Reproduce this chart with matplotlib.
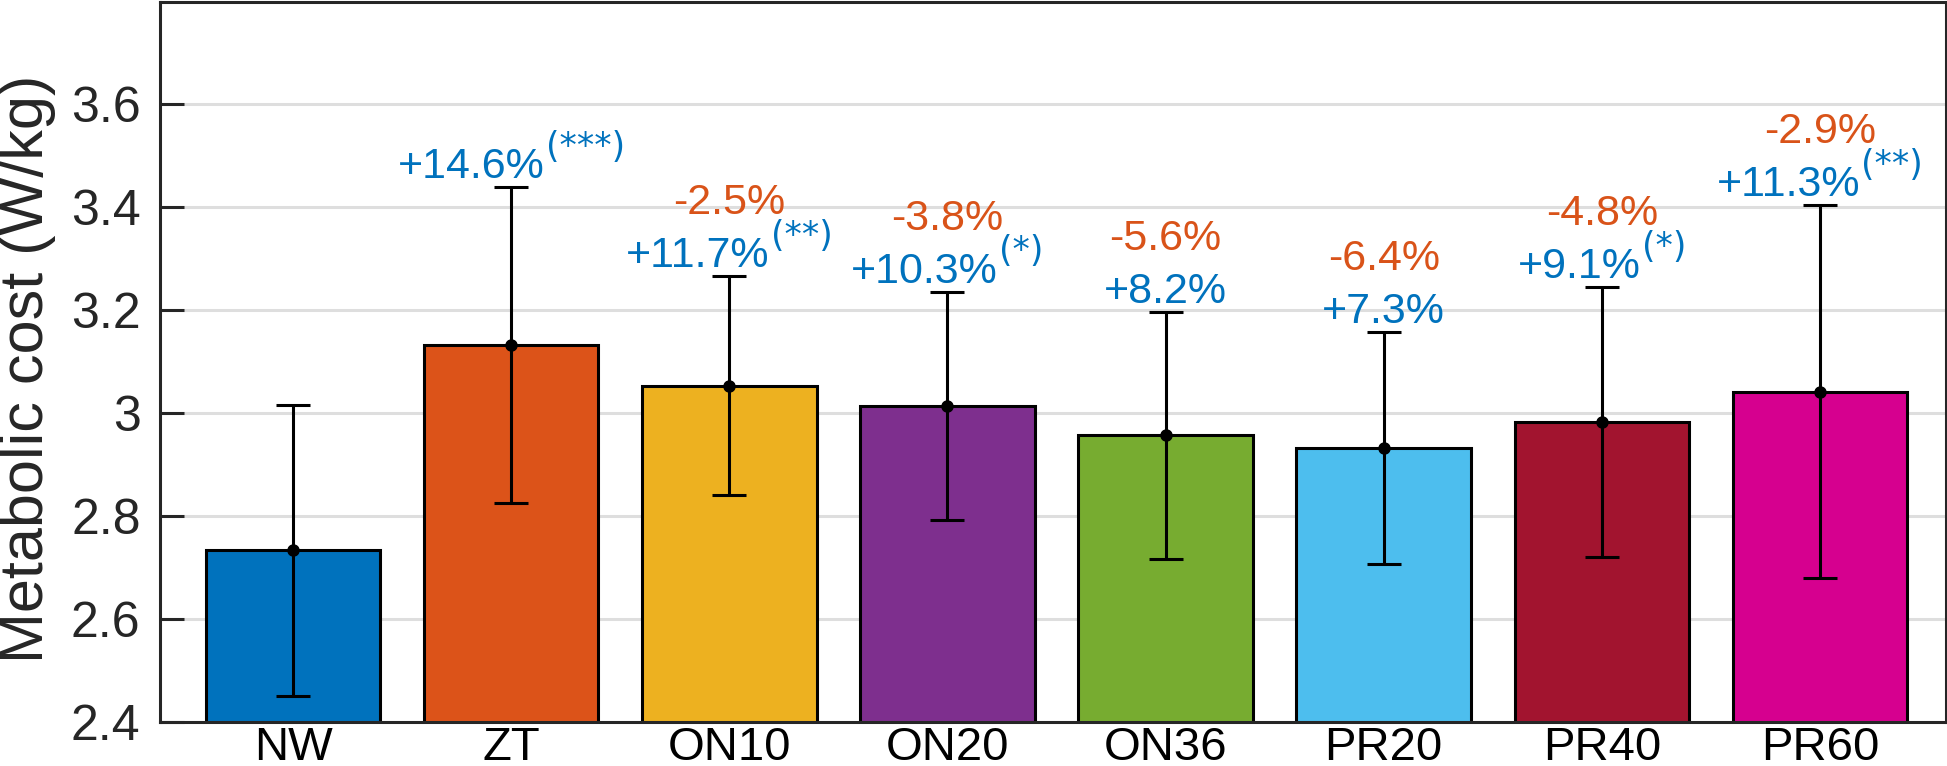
import numpy as np
import matplotlib.pyplot as plt

plt.rcParams['font.family'] = ['Liberation Sans', 'DejaVu Sans']

# condition names and mean metabolic cost with SD (W/kg)
conditions = ['NW', 'ZT', 'ON10', 'ON20', 'ON36', 'PR20', 'PR40', 'PR60']
means = [2.733, 3.132, 3.053, 3.014, 2.957, 2.932, 2.983, 3.042]
sds = [0.282, 0.307, 0.213, 0.222, 0.240, 0.226, 0.262, 0.362]
bar_colors = ['#0072BD', '#DC5319', '#EDB120', '#7E2F8E', '#77AC30',
              '#4DBEEE', '#A2142F', '#D6008F']

# change vs NW (blue), change vs ZT (red), significance marks
vs_nw = ['', '+14.6%', '+11.7%', '+10.3%', '+8.2%', '+7.3%', '+9.1%', '+11.3%']
sig = ['', '(***)', '(**)', '(*)', '', '', '(*)', '(**)']
vs_zt = ['', '', '-2.5%', '-3.8%', '-5.6%', '-6.4%', '-4.8%', '-2.9%']

yticks = [2.4, 2.6, 2.8, 3.0, 3.2, 3.4, 3.6]
ytick_labels = ['2.4', '2.6', '2.8', '3', '3.2', '3.4', '3.6']

blue = '#0072BD'
red = '#D95319'
axis_col = '#262626'

fig = plt.figure(figsize=(19.47, 7.66), dpi=100)
ax = fig.add_axes([0.0822, 0.0577, 0.9175, 0.9403])

x = np.arange(len(conditions))
ax.bar(x, means, width=0.8, color=bar_colors, edgecolor='k', linewidth=2.2, zorder=2)
ax.errorbar(x, means, yerr=sds, fmt='o', color='k', ms=8, elinewidth=2.2,
            capsize=12, capthick=2.2, zorder=3)

ax.set_xlim(-0.61, 7.58)
ax.set_ylim(2.4, 3.8)
ax.set_yticks(yticks)
ax.set_yticklabels(ytick_labels)
ax.set_xticks(x)
ax.set_xticklabels(conditions)
ax.tick_params(axis='y', direction='in', length=17, width=2.2, color=axis_col,
               labelsize=36, labelcolor=axis_col, pad=14)
ax.tick_params(axis='x', length=0, labelsize=34, labelcolor='k', pad=3)
ax.set_ylabel('Metabolic cost (W/kg)', fontsize=44, color=axis_col)
ax.yaxis.set_label_coords(-0.058, 0.49)

ax.grid(axis='y', color='#dedede', linewidth=2.2)
ax.set_axisbelow(True)
for s in ax.spines.values():
    s.set_color(axis_col)
    s.set_linewidth(2.2)

pairs = []
for i in range(len(conditions)):
    top = means[i] + sds[i]
    if vs_nw[i]:
        t = ax.annotate(vs_nw[i], xy=(x[i], top), xytext=(0, 0), textcoords='offset points',
                        ha='center', va='bottom', fontsize=31, color=blue)
        if sig[i]:
            s = ax.annotate(sig[i], xy=(1, 0), xycoords=t, xytext=(1, 22),
                            textcoords='offset points', ha='left', va='baseline',
                            fontsize=25, color=blue, family='DejaVu Sans')
            pairs.append((t, s))
    if vs_zt[i]:
        ax.annotate(vs_zt[i], xy=(x[i], top), xytext=(0, 38), textcoords='offset points',
                    ha='center', va='bottom', fontsize=31, color=red)

# centre the whole "value + superscript" string over its bar
fig.canvas.draw()
r = fig.canvas.get_renderer()
for t, s in pairs:
    w = s.get_window_extent(r).width + 1.4
    t.xyann = (-w / 2 * 72 / fig.dpi, 0)

fig.savefig('out.png', dpi=100)
